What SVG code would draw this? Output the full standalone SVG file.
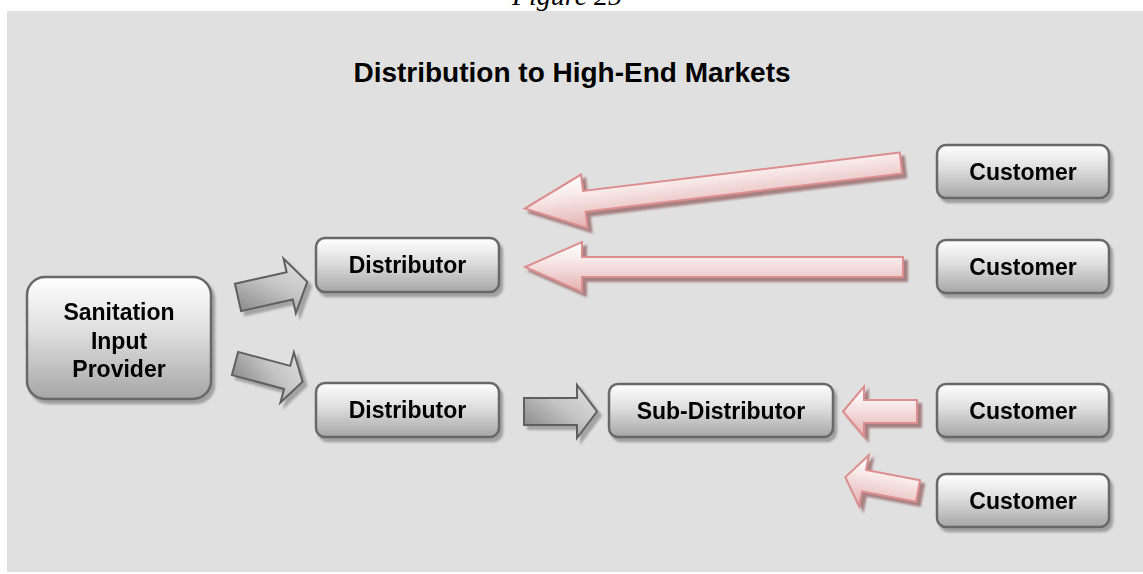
<svg xmlns="http://www.w3.org/2000/svg" width="1143" height="574" viewBox="0 0 1143 574">
  <defs>
    <style>
      .box { stroke: #676767; stroke-width: 2.5; fill: url(#boxFill); }
      .lbl { font-family: "Liberation Sans", Arial, sans-serif; font-weight: bold; font-size: 23px; fill: #000; text-anchor: middle; }
      .pink { fill: url(#pinkFill); stroke: #dc8e8e; stroke-width: 2; stroke-linejoin: miter; }
      .grey { fill: url(#greyFill); stroke: #5f5f5f; stroke-width: 2; stroke-linejoin: miter; }
    </style>
    <linearGradient id="boxFill" x1="0" y1="0" x2="0" y2="1">
      <stop offset="0" stop-color="#ffffff"/>
      <stop offset="0.45" stop-color="#dedede"/>
      <stop offset="1" stop-color="#a6a6a6"/>
    </linearGradient>
    <linearGradient id="pinkFill" x1="0" y1="0" x2="0" y2="1">
      <stop offset="0" stop-color="#ffffff"/>
      <stop offset="0.35" stop-color="#f8eaea"/>
      <stop offset="1" stop-color="#e4b0b0"/>
    </linearGradient>
    <linearGradient id="greyFill" x1="0" y1="1" x2="1" y2="0">
      <stop offset="0" stop-color="#7c7c7c"/>
      <stop offset="0.55" stop-color="#c4c4c4"/>
      <stop offset="1" stop-color="#e4e4e4"/>
    </linearGradient>
    <filter id="boxShadow" x="-10%" y="-10%" width="125%" height="130%">
      <feDropShadow dx="3" dy="4" stdDeviation="1" flood-color="#9a9a9a" flood-opacity="0.9"/>
    </filter>
    <filter id="pinkShadow" x="-10%" y="-20%" width="125%" height="150%">
      <feDropShadow dx="4" dy="4" stdDeviation="0.8" flood-color="#a07777" flood-opacity="0.9"/>
    </filter>
    <filter id="greyShadow" x="-20%" y="-20%" width="150%" height="150%">
      <feDropShadow dx="4" dy="4" stdDeviation="1" flood-color="#9c9c9c" flood-opacity="0.9"/>
    </filter>
  </defs>

  <!-- caption, clipped at the top edge -->
  <text x="567" y="4.5" font-family="'Liberation Serif', 'Times New Roman', serif" font-style="italic" font-size="28" text-anchor="middle" fill="#000">Figure 25</text>

  <!-- panel -->
  <rect x="7" y="11" width="1136" height="561" fill="#e0e0e0"/>

  <text x="572" y="82" font-family="'Liberation Sans', Arial, sans-serif" font-weight="bold" font-size="28" text-anchor="middle" fill="#000">Distribution to High-End Markets</text>

  <!-- connectors -->
  <g id="connectors">
    <g filter="url(#greyShadow)">
      <path class="grey" transform="translate(238 297.5) rotate(-12.7)" d="M0,-14 H53 V-28 L71,0 L53,28 V14 H0 Z"/>
    </g>
    <g filter="url(#greyShadow)">
      <path class="grey" transform="translate(235 363.5) rotate(15)" d="M0,-12 H54 V-26 L70,0 L54,26 V12 H0 Z"/>
    </g>
    <g filter="url(#greyShadow)">
      <path class="grey" transform="translate(524 411.5)" d="M0,-13.5 H53 V-26.5 L73,0 L53,26.5 V13.5 H0 Z"/>
    </g>
    <g filter="url(#pinkShadow)">
      <path class="pink" transform="translate(901 163) rotate(-6.9)" d="M0,-10.5 H-319 V-27 L-379,0 L-319,27 V10.5 H0 Z"/>
    </g>
    <g filter="url(#pinkShadow)">
      <path class="pink" transform="translate(903 267)" d="M0,-10 H-321 V-25 L-378,0 L-321,25 V10 H0 Z"/>
    </g>
    <g filter="url(#pinkShadow)">
      <path class="pink" transform="translate(917 411.5)" d="M0,-11.5 H-53 V-25 L-74,0 L-53,25 V11.5 H0 Z"/>
    </g>
    <g filter="url(#pinkShadow)">
      <path class="pink" transform="translate(918 491) rotate(10.8)" d="M0,-11 H-55 V-26 L-74,0 L-55,26 V11 H0 Z"/>
    </g>
  </g>

  <!-- nodes -->
  <g id="provider" filter="url(#boxShadow)">
    <rect class="box" x="27" y="277" width="184" height="122" rx="18"/>
    <text class="lbl" x="119" y="320">Sanitation</text>
    <text class="lbl" x="119" y="348.5">Input</text>
    <text class="lbl" x="119" y="377">Provider</text>
  </g>
  <g id="distributor1" filter="url(#boxShadow)">
    <rect class="box" x="316" y="238" width="183" height="54" rx="9"/>
    <text class="lbl" x="407.5" y="273">Distributor</text>
  </g>
  <g id="distributor2" filter="url(#boxShadow)">
    <rect class="box" x="316" y="383" width="183" height="54" rx="9"/>
    <text class="lbl" x="407.5" y="418">Distributor</text>
  </g>
  <g id="subdistributor" filter="url(#boxShadow)">
    <rect class="box" x="609" y="384" width="224" height="53" rx="9"/>
    <text class="lbl" x="721" y="418.5">Sub-Distributor</text>
  </g>
  <g id="customer1" filter="url(#boxShadow)">
    <rect class="box" x="937" y="145" width="172" height="53" rx="9"/>
    <text class="lbl" x="1023" y="179.5">Customer</text>
  </g>
  <g id="customer2" filter="url(#boxShadow)">
    <rect class="box" x="937" y="240" width="172" height="53" rx="9"/>
    <text class="lbl" x="1023" y="274.5">Customer</text>
  </g>
  <g id="customer3" filter="url(#boxShadow)">
    <rect class="box" x="937" y="384" width="172" height="53" rx="9"/>
    <text class="lbl" x="1023" y="418.5">Customer</text>
  </g>
  <g id="customer4" filter="url(#boxShadow)">
    <rect class="box" x="937" y="474" width="172" height="53" rx="9"/>
    <text class="lbl" x="1023" y="508.5">Customer</text>
  </g>
</svg>
